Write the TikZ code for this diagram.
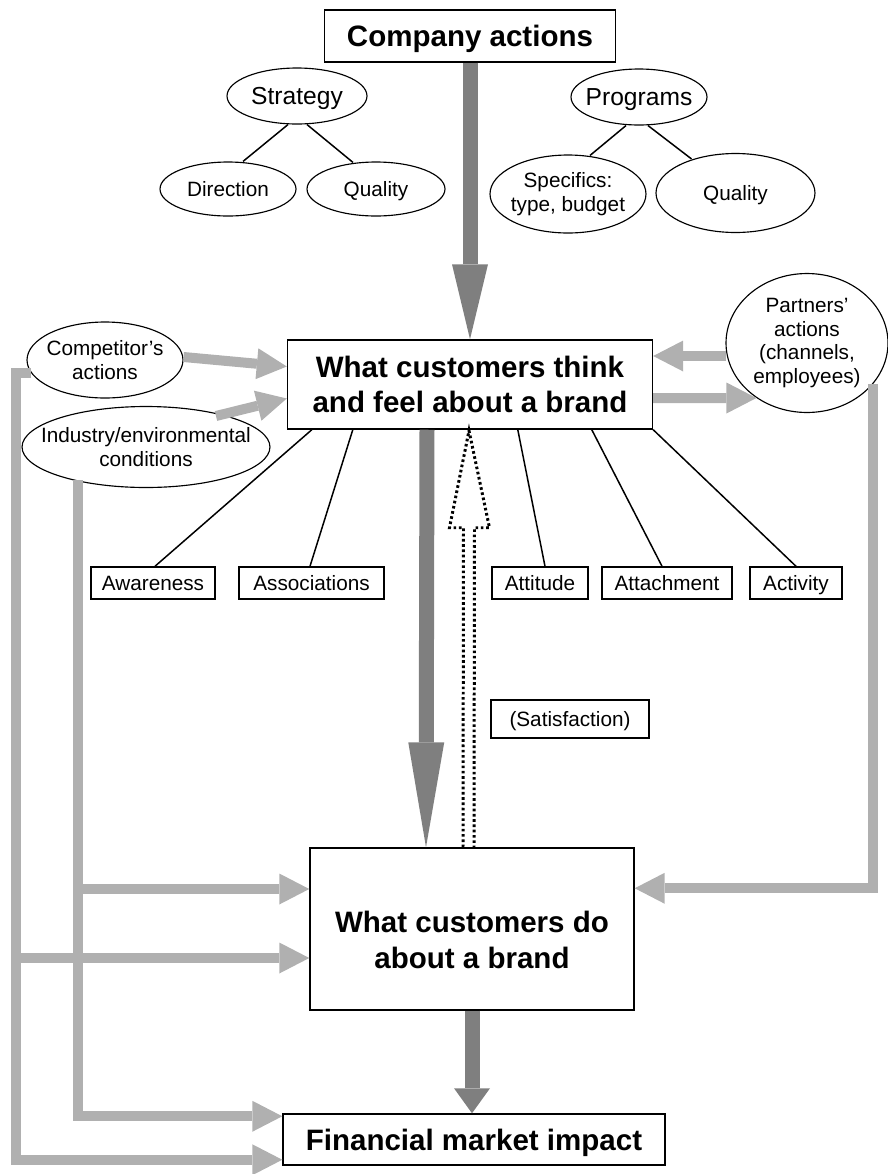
\documentclass[tikz,border=0pt]{standalone}
\usepackage{fontspec}
\setmainfont{Liberation Sans}
\usetikzlibrary{arrows.meta,calc,shapes.geometric}
\definecolor{lgray}{HTML}{B0B0B0}
\definecolor{dgray}{HTML}{7F7F7F}
\begin{document}
\begin{tikzpicture}[x=0.02cm,y=-0.02cm,
  box/.style={draw, line width=0.85pt, inner sep=0pt, align=center, small},
  ell/.style={draw, ellipse, line width=0.65pt, inner sep=0pt},
  lab/.style={small, align=center, inner sep=0pt},
  big/.style={font=\fontsize{16.8}{20}\selectfont\bfseries},
  small/.style={font=\fontsize{11.8}{13.6}\selectfont},
  mid/.style={font=\fontsize{14}{16}\selectfont},
  one/.style={text height=10.5pt, text depth=2.05pt},
  onemid/.style={text height=12.5pt, text depth=2.5pt},
  bigone/.style={text height=15.5pt, text depth=3.5pt},
  thinline/.style={line width=0.85pt},
  garrow/.style={draw=lgray, line width=0.2cm, -{Triangle[length=0.6cm,width=0.62cm,line width=0pt]}},
  darrow/.style={draw=dgray, line width=0.3cm, -{Triangle[length=#1,width=0.72cm,line width=0pt]}},
  dotarrow/.style={draw=black, line width=1.7pt, dash pattern=on 1.5pt off 1.5pt, line join=miter},
]
\useasboundingbox (0,0) rectangle (888,1174);

% top group
\node[box, big, bigone, minimum width=5.82cm, minimum height=1.04cm] (comp) at (470,36) {Company actions};
\node[ell, minimum width=2.8cm, minimum height=1.12cm, label={[lab,mid,onemid]center:Strategy}] (strat) at (297,96) {};
\node[ell, minimum width=2.72cm, minimum height=1.08cm, label={[lab,one]center:Direction}] (dir) at (228,189) {};
\node[ell, minimum width=2.76cm, minimum height=1.08cm, label={[lab,one]center:Quality}] (qualA) at (376,189) {};
\node[ell, minimum width=2.72cm, minimum height=1.12cm, label={[lab,mid,onemid]center:Programs}] (prog) at (639,97) {};
\node[ell, minimum width=3.12cm, minimum height=1.56cm, label={[lab]center:Specifics:\\type, budget}] (spec) at (568,194) {};
\node[ell, minimum width=3.18cm, minimum height=1.58cm, label={[lab,one]center:Quality}] (qualB) at (735.5,193) {};

% middle
\node[box, big, minimum width=7.3cm, minimum height=1.78cm] (think) at (470,384.5) {What customers think\\and feel about a brand};
\node[ell, minimum width=3.12cm, minimum height=1.52cm, label={[lab]center:Competitor’s\\actions}] (compet) at (105,360) {};
\node[ell, minimum width=4.96cm, minimum height=1.62cm, label={[lab]center:Industry/environmental\\conditions}] (ind) at (146,447) {};
\node[ell, minimum width=3.24cm, minimum height=2.78cm, label={[lab]center:Partners’\\actions\\(channels,\\employees)}] (part) at (807,343) {};

\node[box, one, minimum width=2.48cm, minimum height=0.64cm] (aw) at (153,583) {Awareness};
\node[box, one, minimum width=2.9cm, minimum height=0.64cm] (as) at (311.5,583) {Associations};
\node[box, one, minimum width=1.92cm, minimum height=0.64cm] (att) at (540,583) {Attitude};
\node[box, one, minimum width=2.6cm, minimum height=0.64cm] (atc) at (667,583) {Attachment};
\node[box, one, minimum width=1.84cm, minimum height=0.64cm] (act) at (796,583) {Activity};
\node[box, one, minimum width=3.16cm, minimum height=0.76cm] (sat) at (570,719) {(Satisfaction)};

% bottom
\node[box, minimum width=6.48cm, minimum height=3.24cm] (do) at (472,929) {};
\node[big, align=center] (dotext) at (472,940) {What customers do\\about a brand};
\node[box, big, bigone, minimum width=7.64cm, minimum height=1.02cm] (fin) at (474,1139.5) {Financial market impact};

% thin lines
\draw[thinline] ($(strat.south)+(-9,0)$) -- ($(dir.north)+(15,0)$);
\draw[thinline] ($(strat.south)+(10,0)$) -- ($(qualA.north)+(-23,1)$);
\draw[thinline] ($(prog.south)+(-13,0)$) -- ($(spec.north)+(22,1)$);
\draw[thinline] ($(prog.south)+(9,0)$) -- ($(qualB.north)+(-44,6)$);

\draw[thinline] ($(think.south west)+(25,0)$) -- ($(aw.north)+(2,0)$);
\draw[thinline] ($(think.south west)+(66,0)$) -- ($(as.north)+(-1.5,0)$);
\draw[thinline] ($(think.south west)+(231,0)$) -- ($(att.north)+(5,0)$);
\draw[thinline] ($(think.south west)+(305,0)$) -- ($(atc.north)+(-5,0)$);
\draw[thinline] (think.south east) -- (act.north);

% dark arrows
\draw[darrow=1.5cm] (comp.south) -- (think.north);
\draw[darrow=2.1cm] ($(think.south)+(-43,0)$) -- ($(do.north)+(-46,0)$);
\draw[darrow=0.5cm] (do.south) -- (do.south |- fin.north);

% dotted open arrow (satisfaction feedback)
\coordinate (dtip) at ($(think.south)+(-1,1)$);
\coordinate (dbase) at ($(do.north)+(-3.5,0)$);
\draw[dotarrow] ($(dbase)+(-5.5,0)$) -- ($(dtip)+(-5.5,97)$) -- ($(dtip)+(-19.5,97)$) -- (dtip)
  -- ($(dtip)+(20.5,97)$) -- ($(dtip)+(5.5,97)$) -- ($(dbase)+(5.5,0)$);

% gray arrows
\draw[garrow] ($(compet.east)+(0,-3)$) -- ($(think.west)+(0,-18)$);
\draw[garrow] ($(ind.center)+(70,-31)$) -- ($(think.west)+(0,14)$);
\draw[garrow] ($(part.west)+(1,13)$) -- ($(think.east)+(0,-28.5)$);
\draw[garrow] ($(think.east)+(0,13.5)$) -- ($(part.west)+(31,55)$);
\draw[garrow] ($(part.center)+(66,41)$) |- ($(do.north east)+(0,41)$);

\coordinate (L1) at ($(compet.west)+(-10,13)$);
\coordinate (dobr) at ($(do.west)+(0,29)$);
\coordinate (doup) at ($(do.west)+(0,-40)$);
\coordinate (finup) at ($(fin.north west)+(0,3)$);
\coordinate (findn) at ($(fin.south west)+(0,-6)$);
\coordinate (L2) at ($(ind.center)+(-68,0)$);

\draw[garrow] ($(compet.west)+(5,13)$) -- (L1) |- (findn);
\draw[garrow] (L1 |- dobr) -- (dobr);
\draw[garrow] ($(ind.center)+(-68,33)$) |- (finup);
\draw[garrow] (L2 |- doup) -- (doup);
\end{tikzpicture}
\end{document}
